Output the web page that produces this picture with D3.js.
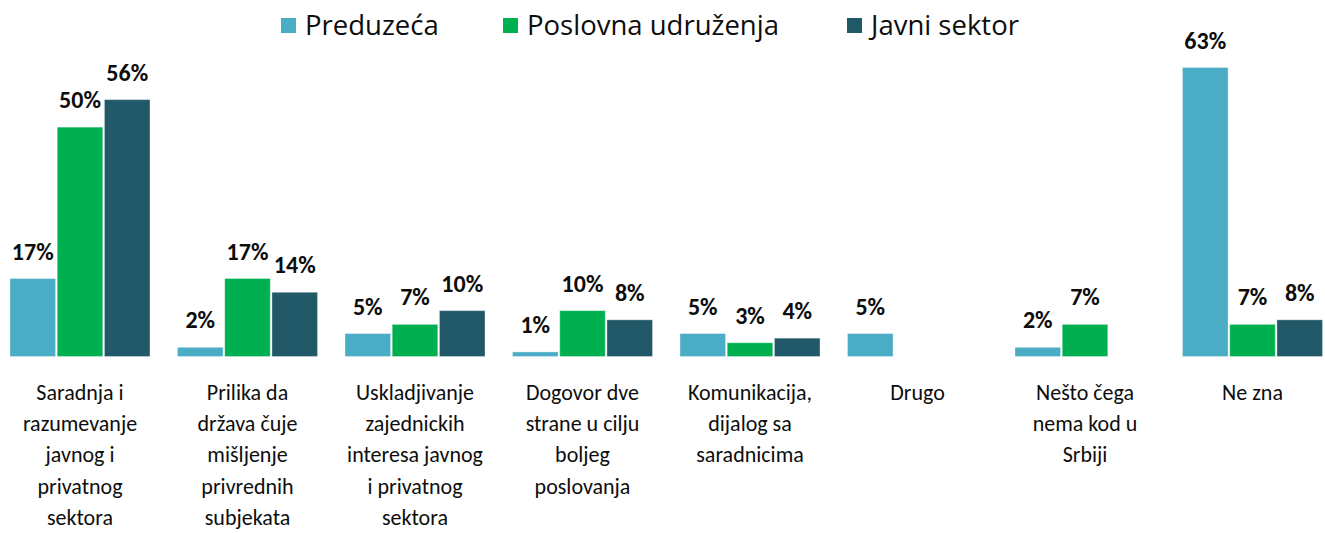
<!DOCTYPE html>
<html>
<head>
<meta charset="utf-8">
<script src="https://cdn.jsdelivr.net/npm/d3@7"></script>
<style>
  body { margin: 0; background: #fff; }
  svg { display: block; font-family: "Carlito", "Lato", sans-serif; }
</style>
</head>
<body>
<div id="chart"></div>
<script>
// Data
const categories = ["Saradnja", "Prilika", "Uskladjivanje", "Dogovor", "Komunikacija", "Drugo", "Nesto", "NeZna"];
const categoryLabels = [
  ["Saradnja i", "razumevanje", "javnog i", "privatnog", "sektora"],
  ["Prilika da", "država čuje", "mišljenje", "privrednih", "subjekata"],
  ["Uskladjivanje", "zajednickih", "interesa javnog", "i privatnog", "sektora"],
  ["Dogovor dve", "strane u cilju", "boljeg", "poslovanja"],
  ["Komunikacija,", "dijalog sa", "saradnicima"],
  ["Drugo"],
  ["Nešto čega", "nema kod u", "Srbiji"],
  ["Ne zna"]
];
const seriesNames = ["Preduzeća", "Poslovna udruženja", "Javni sektor"];
const preduzeca = [17, 2, 5, 1, 5, 5, 2, 63];
const udruzenja = [50, 17, 7, 10, 3, null, 7, 7];
const javniSektor = [56, 14, 10, 8, 4, null, null, 8];
const colors = ["#4BACC6", "#00B050", "#215968"];

const width = 1325, height = 533;

const svg = d3.select("#chart")
  .append("svg")
  .attr("width", width)
  .attr("height", height);

// Scales
const x0 = d3.scaleBand()
  .domain(categories)
  .range([-3.75, 1336.25])
  .padding(0);

const x1 = d3.scaleBand()
  .domain(seriesNames)
  .range([13.75, x0.bandwidth() - 13.75])
  .paddingInner(0.035);

const y = d3.scaleLinear()
  .domain([0, 63])
  .range([356.5, 67.5]);

const color = d3.scaleOrdinal().domain(seriesNames).range(colors);

// Flatten into bar records
const allSeries = [preduzeca, udruzenja, javniSektor];
const bars = [];
categories.forEach((c, i) => {
  seriesNames.forEach((s, j) => {
    const v = allSeries[j][i];
    if (v != null) bars.push({ cat: c, series: s, value: v });
  });
});

const barG = svg.append("g");
barG.selectAll("rect")
  .data(bars)
  .enter()
  .append("rect")
  .attr("x", d => x0(d.cat) + x1(d.series))
  .attr("y", d => y(d.value))
  .attr("width", x1.bandwidth())
  .attr("height", d => y(0) - y(d.value))
  .attr("fill", d => color(d.series))
  .attr("stroke", "#ffffff")
  .attr("stroke-opacity", 0.35)
  .attr("stroke-width", 1);

// Value labels
barG.selectAll("text")
  .data(bars)
  .enter()
  .append("text")
  .attr("x", d => x0(d.cat) + x1(d.series) + x1.bandwidth() / 2)
  .attr("y", d => y(d.value) - 19)
  .attr("text-anchor", "middle")
  .attr("font-weight", "bold")
  .attr("font-size", 24)
  .attr("fill", "#0d0d0d")
  .text(d => d.value + "%");

// Category labels
const catG = svg.append("g");
categories.forEach((c, i) => {
  const t = catG.append("text")
    .attr("x", x0(c) + x0.bandwidth() / 2)
    .attr("y", 400)
    .attr("text-anchor", "middle")
    .attr("font-size", 22)
    .attr("fill", "#0d0d0d");
  categoryLabels[i].forEach((line, k) => {
    t.append("tspan")
      .attr("x", x0(c) + x0.bandwidth() / 2)
      .attr("dy", k === 0 ? 0 : 31.2)
      .text(line);
  });
});

// Legend
const legendX = [281, 503, 847];
const legend = svg.append("g");
seriesNames.forEach((s, i) => {
  const row = legend.append("g").attr("transform", `translate(${legendX[i]}, 0)`);
  row.append("rect")
    .attr("y", 18)
    .attr("width", 15)
    .attr("height", 15)
    .attr("fill", color(s));
  row.append("text")
    .attr("x", 24)
    .attr("y", 35)
    .attr("font-family", "'Open Sans', sans-serif")
    .attr("font-size", 27.5)
    .attr("fill", "#0d0d0d")
    .text(s);
});
</script>
</body>
</html>
